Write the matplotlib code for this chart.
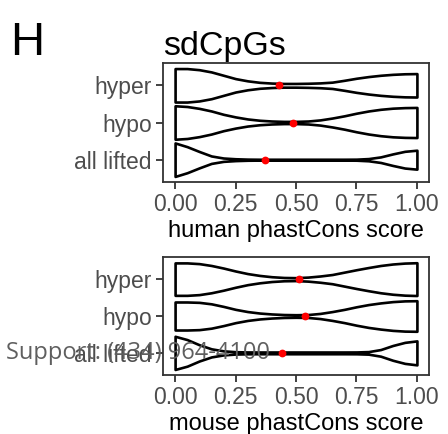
import numpy as np
import matplotlib
matplotlib.use("Agg")
import matplotlib.pyplot as plt

plt.rcParams["font.family"] = ["Liberation Sans", "DejaVu Sans"]

# ── Datos ─────────────────────────────────────────────────────────────────────
groups = ["all lifted", "hypo", "hyper"]          # de abajo hacia arriba
score_grid = [0.00, 0.05, 0.10, 0.15, 0.20, 0.25, 0.30, 0.35, 0.40, 0.45, 0.50,
              0.55, 0.60, 0.65, 0.70, 0.75, 0.80, 0.85, 0.90, 0.95, 1.00]

human_hyper = [0.45, 0.45, 0.42, 0.36, 0.27, 0.18, 0.12, 0.08, 0.06, 0.05, 0.05,
               0.055, 0.065, 0.085, 0.135, 0.19, 0.235, 0.27, 0.295, 0.31, 0.315]
human_hypo = [0.45, 0.43, 0.38, 0.31, 0.22, 0.15, 0.095, 0.06, 0.04, 0.03, 0.03,
              0.04, 0.07, 0.12, 0.18, 0.25, 0.31, 0.355, 0.385, 0.40, 0.405]
human_all = [0.45, 0.35, 0.22, 0.10, 0.045, 0.025, 0.015, 0.012, 0.012, 0.012, 0.012,
             0.012, 0.012, 0.012, 0.012, 0.014, 0.03, 0.075, 0.155, 0.225, 0.255]

mouse_hyper = [0.44, 0.44, 0.42, 0.37, 0.30, 0.22, 0.15, 0.10, 0.065, 0.045, 0.04,
               0.055, 0.085, 0.125, 0.19, 0.255, 0.315, 0.37, 0.41, 0.435, 0.445]
mouse_hypo = [0.38, 0.38, 0.37, 0.33, 0.26, 0.18, 0.12, 0.08, 0.055, 0.04, 0.035,
              0.04, 0.07, 0.12, 0.18, 0.25, 0.31, 0.355, 0.39, 0.41, 0.415]
mouse_all = [0.45, 0.36, 0.22, 0.11, 0.055, 0.032, 0.025, 0.024, 0.024, 0.024, 0.024,
             0.024, 0.024, 0.024, 0.024, 0.025, 0.035, 0.09, 0.20, 0.285, 0.325]

human_median = [0.372, 0.487, 0.429]
mouse_median = [0.443, 0.536, 0.512]

x_ticks = [0.00, 0.25, 0.50, 0.75, 1.00]
x_ticklabels = ["0.00", "0.25", "0.50", "0.75", "1.00"]

W, H, DPI = 448, 434, 100
fig = plt.figure(figsize=(W / DPI, H / DPI), dpi=DPI, facecolor="white")


def px_axes(left, top, right, bottom):
    return fig.add_axes([left / W, 1 - bottom / H, (right - left) / W, (bottom - top) / H])


def draw_panel(ax, widths, medians, xlabel):
    xs = np.array(score_grid)
    for i, w in enumerate(widths):
        w = np.array(w)
        y = i + 1
        ax.fill_between(xs, y - w, y + w, facecolor="white", edgecolor="black",
                        linewidth=1.9, joinstyle="round", zorder=2)
    ax.plot(medians, np.arange(1, len(medians) + 1), "o", color="#FF0000",
            markersize=5.6, markeredgewidth=0, zorder=3)
    ax.set_xlim(-0.05, 1.05)
    ax.set_ylim(0.4, 3.6)
    ax.set_xticks(x_ticks)
    ax.set_xticklabels(x_ticklabels)
    ax.set_yticks([1, 2, 3])
    ax.set_yticklabels(groups)
    ax.tick_params(axis="both", length=5, width=1.3, color="#333333",
                   labelcolor="#4D4D4D", labelsize=16.5, pad=3)
    for sp in ax.spines.values():
        sp.set_color("#333333")
        sp.set_linewidth(1.3)
    ax.set_xlabel(xlabel, fontsize=17, color="black", labelpad=3)


ax1 = px_axes(163, 63, 429, 182)
draw_panel(ax1, [human_all, human_hypo, human_hyper], human_median,
           "human phastCons score")

ax2 = px_axes(163, 257, 429, 375)
draw_panel(ax2, [mouse_all, mouse_hypo, mouse_hyper], mouse_median,
           "mouse phastCons score")

fig.text(163 / W, 1 - 55 / H, "sdCpGs", fontsize=24.5, ha="left",
         va="baseline", color="black")
fig.text(10 / W, 1 - 55 / H, "H", fontsize=34, ha="left", va="baseline",
         color="black")
fig.text(6 / W, 1 - 353 / H, "Support: (434) 964-4100", fontsize=17,
         family=["Open Sans", "DejaVu Sans"], ha="left", va="center",
         color="#5F5F5F", zorder=5)

fig.savefig("out.png", dpi=DPI, facecolor="white")
